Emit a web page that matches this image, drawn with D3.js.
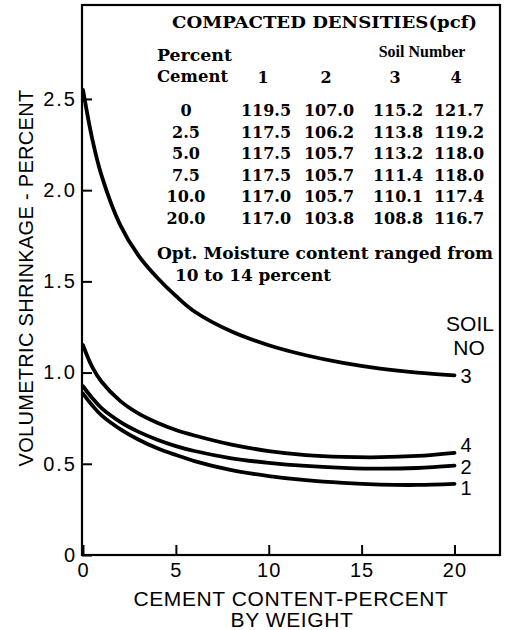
<!DOCTYPE html>
<html>
<head>
<meta charset="utf-8">
<script src="https://cdn.jsdelivr.net/npm/d3@7"></script>
<style>
  body { margin: 0; background: #fff; }
  svg { display: block; }
</style>
</head>
<body>
<div id="chart"></div>
<script>
// Cement content (percent by weight) where the curves were read
const cementPct = [0, 0.5, 1, 2, 3, 4, 5, 6, 8, 10, 12, 14, 16, 18, 20];

// Volumetric shrinkage (percent) for each soil
const soil1 = [0.885, 0.82, 0.765, 0.69, 0.632, 0.585, 0.548, 0.515, 0.465, 0.433, 0.41, 0.395, 0.386, 0.384, 0.39];
const soil2 = [0.925, 0.86, 0.805, 0.73, 0.675, 0.632, 0.597, 0.57, 0.53, 0.505, 0.488, 0.478, 0.473, 0.477, 0.49];
const soil3 = [2.55, 2.28, 2.08, 1.81, 1.64, 1.52, 1.42, 1.335, 1.225, 1.15, 1.095, 1.053, 1.022, 1.0, 0.985];
const soil4 = [1.15, 1.03, 0.95, 0.845, 0.775, 0.725, 0.685, 0.655, 0.605, 0.57, 0.548, 0.538, 0.536, 0.543, 0.56];

const soilNames = ["1", "2", "3", "4"];
const xTicks = [0, 5, 10, 15, 20];
const yTicks = [0, 0.5, 1.0, 1.5, 2.0, 2.5];

// Compacted densities table (pcf)
const tablePercent = ["0", "2.5", "5.0", "7.5", "10.0", "20.0"];
const densSoil1 = [119.5, 117.5, 117.5, 117.5, 117.0, 117.0];
const densSoil2 = [107.0, 106.2, 105.7, 105.7, 105.7, 103.8];
const densSoil3 = [115.2, 113.8, 113.2, 111.4, 110.1, 108.8];
const densSoil4 = [121.7, 119.2, 118.0, 118.0, 117.4, 116.7];

const W = 508, H = 630;
const frame = { left: 82, right: 500, top: 5, bottom: 555 };

const svg = d3.select("#chart")
    .append("svg")
    .attr("width", W)
    .attr("height", H);

// scales
const x = d3.scaleLinear().domain([0, 22.45]).range([83, frame.right]);
const y = d3.scaleLinear().domain([0, 3.015]).range([frame.bottom, frame.top]);

const sans = "'Liberation Sans', Arial, sans-serif";
const serif = "'DejaVu Serif', serif";

// frame
svg.append("rect")
    .attr("x", frame.left)
    .attr("y", frame.top)
    .attr("width", frame.right - frame.left)
    .attr("height", frame.bottom - frame.top)
    .attr("fill", "none")
    .attr("stroke", "#000")
    .attr("stroke-width", 2.2);

// Y axis (ticks point inward)
const yAxis = svg.append("g")
    .attr("transform", "translate(" + frame.left + ",0)")
    .call(d3.axisLeft(y).tickValues(yTicks).tickSize(-10).tickPadding(5)
        .tickFormat(d => d === 0 ? "0" : d3.format(".1f")(d)));
yAxis.select(".domain").remove();
yAxis.selectAll(".tick line").attr("stroke", "#000").attr("stroke-width", 2);
yAxis.selectAll(".tick text")
    .style("font-family", sans)
    .style("font-size", "20px")
    .style("letter-spacing", "2px")
    .attr("fill", "#000");

// X axis
const xAxis = svg.append("g")
    .attr("transform", "translate(0," + frame.bottom + ")")
    .call(d3.axisBottom(x).tickValues(xTicks).tickSize(-10).tickPadding(8));
xAxis.select(".domain").remove();
xAxis.selectAll(".tick line").attr("stroke", "#000").attr("stroke-width", 2);
xAxis.selectAll(".tick text")
    .style("font-family", sans)
    .style("font-size", "20px")
    .style("letter-spacing", "1px")
    .attr("fill", "#000");

// axis titles
svg.append("text")
    .attr("x", 291)
    .attr("y", 606)
    .attr("text-anchor", "middle")
    .style("font-family", sans)
    .style("font-size", "21px")
    .style("letter-spacing", "0.6px")
    .text("CEMENT CONTENT-PERCENT");

svg.append("text")
    .attr("x", 292)
    .attr("y", 627)
    .attr("text-anchor", "middle")
    .style("font-family", sans)
    .style("font-size", "21px")
    .style("letter-spacing", "0.6px")
    .text("BY WEIGHT");

svg.append("text")
    .attr("transform", "translate(33,278) rotate(-90)")
    .attr("text-anchor", "middle")
    .style("font-family", sans)
    .style("font-size", "20px")
    .style("letter-spacing", "0.3px")
    .text("VOLUMETRIC SHRINKAGE - PERCENT");

// curves
const series = [soil1, soil2, soil3, soil4].map((vals, i) => ({
    name: soilNames[i],
    points: cementPct.map((c, j) => ({ x: c, y: vals[j] }))
}));

const line = d3.line()
    .x(d => x(d.x))
    .y(d => y(d.y))
    .curve(d3.curveCatmullRom.alpha(0.5));

svg.append("g")
    .selectAll("path")
    .data(series)
    .join("path")
    .attr("fill", "none")
    .attr("stroke", "#000")
    .attr("stroke-width", 3.8)
    .attr("stroke-linecap", "round")
    .attr("d", d => line(d.points));

// soil labels at the right end of each curve
const labelShift = { "1": 4, "2": 1, "3": 0, "4": -8 };
svg.append("g")
    .selectAll("text")
    .data(series)
    .join("text")
    .attr("x", 466)
    .attr("y", d => y(d.points[d.points.length - 1].y) + labelShift[d.name])
    .attr("dy", "0.36em")
    .attr("text-anchor", "middle")
    .style("font-family", sans)
    .style("font-size", "20px")
    .text(d => d.name);

svg.append("text")
    .attr("x", 470).attr("y", 331)
    .attr("text-anchor", "middle")
    .style("font-family", sans)
    .style("font-size", "21px")
    .text("SOIL");
svg.append("text")
    .attr("x", 469).attr("y", 355)
    .attr("text-anchor", "middle")
    .style("font-family", sans)
    .style("font-size", "21px")
    .text("NO");

// densities table
const table = svg.append("g")
    .style("font-family", serif)
    .style("font-weight", "bold")
    .style("font-size", "16px")
    .attr("fill", "#000");

table.append("text")
    .attr("x", 172).attr("y", 28)
    .attr("textLength", 305)
    .attr("lengthAdjust", "spacingAndGlyphs")
    .style("font-size", "17px")
    .text("COMPACTED DENSITIES(pcf)");

table.append("text")
    .attr("x", 422).attr("y", 57)
    .attr("text-anchor", "middle")
    .style("font-family", "'Liberation Serif', serif")
    .style("font-size", "16px")
    .text("Soil Number");

table.append("text").attr("x", 157).attr("y", 61)
    .attr("textLength", 75).attr("lengthAdjust", "spacingAndGlyphs")
    .style("font-size", "17px")
    .text("Percent");
table.append("text").attr("x", 157).attr("y", 82)
    .attr("textLength", 71).attr("lengthAdjust", "spacingAndGlyphs")
    .style("font-size", "17px")
    .text("Cement");

const colX = [266, 329, 398, 459];
const pctX = 186;
const rowY = d3.scaleLinear().domain([0, 5]).range([116, 224]);

table.append("g")
    .selectAll("text")
    .data(soilNames)
    .join("text")
    .attr("x", (d, i) => colX[i] - 3)
    .attr("y", 83)
    .attr("text-anchor", "middle")
    .text(d => d);

table.append("g")
    .selectAll("text")
    .data(tablePercent)
    .join("text")
    .attr("x", pctX)
    .attr("y", (d, i) => rowY(i))
    .attr("text-anchor", "middle")
    .text(d => d);

[densSoil1, densSoil2, densSoil3, densSoil4].forEach((col, ci) => {
    table.append("g")
        .selectAll("text")
        .data(col)
        .join("text")
        .attr("x", colX[ci])
        .attr("y", (d, i) => rowY(i))
        .attr("text-anchor", "middle")
        .text(d => d.toFixed(1));
});

table.append("text")
    .attr("x", 157).attr("y", 259)
    .attr("textLength", 336)
    .attr("lengthAdjust", "spacingAndGlyphs")
    .text("Opt. Moisture content ranged from");

table.append("text")
    .attr("x", 175).attr("y", 281)
    .attr("textLength", 156)
    .attr("lengthAdjust", "spacingAndGlyphs")
    .text("10 to 14 percent");
</script>
</body>
</html>
